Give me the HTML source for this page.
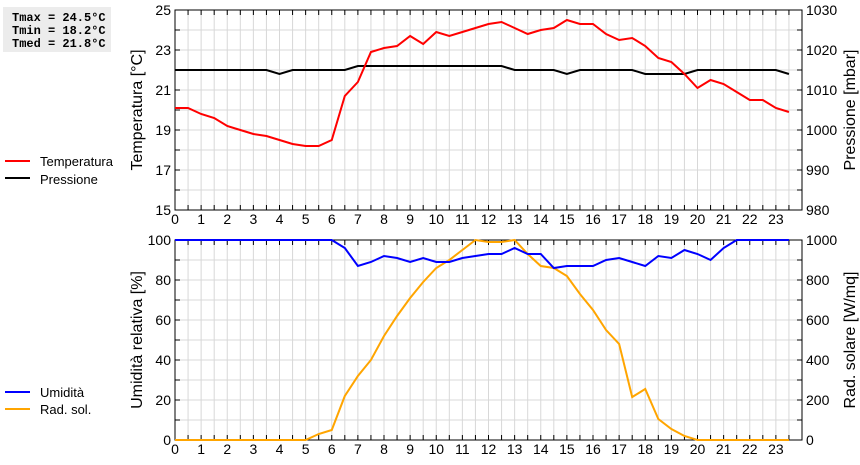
<!DOCTYPE html>
<html><head><meta charset="utf-8"><style>
body{margin:0;background:#fff;width:860px;height:460px;overflow:hidden}
text{font-family:"Liberation Sans",sans-serif;font-size:13px;fill:#000}
</style></head><body>
<svg id="c" width="860" height="460">
<rect x="3" y="7" width="108" height="45" fill="#ececec"/>
<text x="12" y="21" style="font-family:'Liberation Mono',monospace;font-weight:bold;font-size:12px">Tmax = 24.5°C</text>
<text x="12" y="34" style="font-family:'Liberation Mono',monospace;font-weight:bold;font-size:12px">Tmin = 18.2°C</text>
<text x="12" y="47" style="font-family:'Liberation Mono',monospace;font-weight:bold;font-size:12px">Tmed = 21.8°C</text>
<g>
<line x1="5" y1="161" x2="30" y2="161" stroke="#f00" stroke-width="2"/><text x="40" y="166">Temperatura</text>
<line x1="5" y1="178" x2="30" y2="178" stroke="#000" stroke-width="2"/><text x="40" y="184">Pressione</text>
</g>
<g>
<line x1="5" y1="392" x2="30" y2="392" stroke="#00f" stroke-width="2"/><text x="40" y="397">Umidità</text>
<line x1="5" y1="409" x2="30" y2="409" stroke="orange" stroke-width="2"/><text x="40" y="414">Rad. sol.</text>
</g>
</svg>
<script>
const hours=[0,0.5,1,1.5,2,2.5,3,3.5,4,4.5,5,5.5,6,6.5,7,7.5,8,8.5,9,9.5,10,10.5,11,11.5,12,12.5,13,13.5,14,14.5,15,15.5,16,16.5,17,17.5,18,18.5,19,19.5,20,20.5,21,21.5,22,22.5,23,23.5];
const temperature=[20.1,20.1,19.8,19.6,19.2,19.0,18.8,18.7,18.5,18.3,18.2,18.2,18.5,20.7,21.4,22.9,23.1,23.2,23.7,23.3,23.9,23.7,23.9,24.1,24.3,24.4,24.1,23.8,24.0,24.1,24.5,24.3,24.3,23.8,23.5,23.6,23.2,22.6,22.4,21.8,21.1,21.5,21.3,20.9,20.5,20.5,20.1,19.9];
const pressure=[1015,1015,1015,1015,1015,1015,1015,1015,1014,1015,1015,1015,1015,1015,1016,1016,1016,1016,1016,1016,1016,1016,1016,1016,1016,1016,1015,1015,1015,1015,1014,1015,1015,1015,1015,1015,1014,1014,1014,1014,1015,1015,1015,1015,1015,1015,1015,1014];
const humidity=[100,100,100,100,100,100,100,100,100,100,100,100,100,96,87,89,92,91,89,91,89,89,91,92,93,93,96,93,93,86,87,87,87,90,91,89,87,92,91,95,93,90,96,100,100,100,100,100];
const solar=[0,0,0,0,0,0,0,0,0,0,0,30,50,220,320,400,520,620,710,790,860,900,950,1000,990,990,1000,930,870,860,820,730,650,550,480,215,255,105,55,20,0,0,0,0,0,0,0,0];
const xTicks=[0,1,2,3,4,5,6,7,8,9,10,11,12,13,14,15,16,17,18,19,20,21,22,23];
const tempTicks=[15,17,19,21,23,25];
const presTicks=[980,990,1000,1010,1020,1030];
const humTicks=[0,20,40,60,80,100];
const solTicks=[0,200,400,600,800,1000];

const svg=document.getElementById('c');
const NS='http://www.w3.org/2000/svg';
const X0=175,X1=802;
const xs=h=>X0+(X1-X0)*h/24;
function mk(t,a,name){const e=document.createElementNS(NS,t);for(const k in a)e.setAttribute(k,a[k]);


svg.appendChild(e);return e;}
function panel(top,bot,lmin,lmax,rmin,rmax,lt,rt,ltitle,rtitle,lstep,rstep,pn){
  const yl=v=>bot-(bot-top)*(v-lmin)/(lmax-lmin);
  const yr=v=>bot-(bot-top)*(v-rmin)/(rmax-rmin);
  for(let h=0.5;h<24;h+=0.5)mk('line',{x1:xs(h),x2:xs(h),y1:top,y2:bot,stroke:'#d8d8d8'},pn+'-vgrid');
  for(let v=lmin+lstep;v<lmax;v+=lstep)mk('line',{x1:X0,x2:X1,y1:yl(v),y2:yl(v),stroke:'#d8d8d8'},pn+'-hgrid');
  mk('rect',{x:X0,y:top,width:X1-X0,height:bot-top,fill:'none',stroke:'#000'},pn+'-frame');
  for(let h=0.5;h<24;h+=0.5){mk('line',{x1:xs(h),x2:xs(h),y1:bot,y2:bot-5,stroke:'#000'},pn+'-xtick');mk('line',{x1:xs(h),x2:xs(h),y1:top,y2:top+5,stroke:'#000'},pn+'-xtick');}
  for(let v=lmin+lstep;v<lmax;v+=lstep){mk('line',{x1:X0,x2:X0+5,y1:yl(v),y2:yl(v),stroke:'#000'},pn+'-ytick');mk('line',{x1:X1,x2:X1-5,y1:yl(v),y2:yl(v),stroke:'#000'},pn+'-ytick');}
  xTicks.forEach(h=>{const t=mk('text',{x:xs(h),y:bot+14,'text-anchor':'middle',style:'font-size:14px'},pn+'-x-label');t.textContent=h;});
  lt.forEach(v=>{const t=mk('text',{x:X0-4,y:yl(v)+5,'text-anchor':'end',style:'font-size:14px'},pn+'-left-label');t.textContent=v;});
  rt.forEach(v=>{const t=mk('text',{x:X1+4,y:yr(v)+5,style:'font-size:14px'},pn+'-right-label');t.textContent=v;});
  const cy=(top+bot)/2;
  let t=mk('text',{x:0,y:0,transform:`translate(142,${cy}) rotate(-90)`,'text-anchor':'middle',style:'font-size:16px'},pn+'-left-title');t.textContent=ltitle;
  t=mk('text',{x:0,y:0,transform:`translate(855,${cy}) rotate(-90)`,'text-anchor':'middle',style:'font-size:16px'},pn+'-right-title');t.textContent=rtitle;
  return [yl,yr];
}
function line(vals,yf,col,name){mk('polyline',{points:hours.map((h,i)=>xs(h)+','+yf(vals[i])).join(' '),fill:'none',stroke:col,'stroke-width':2},name);}
let [a,b]=panel(10,210,15,25,980,1030,tempTicks,presTicks,'Temperatura [°C]','Pressione [mbar]',1,10,'top');
line(pressure,b,'#000','pressure-line');line(temperature,a,'#f00','temperature-line');
[a,b]=panel(240,440,0,100,0,1000,humTicks,solTicks,'Umidità relativa [%]','Rad. solare [W/mq]',10,100,'bottom');
line(solar,b,'orange','solar-line');line(humidity,a,'#00f','humidity-line');
</script>
</body></html>
